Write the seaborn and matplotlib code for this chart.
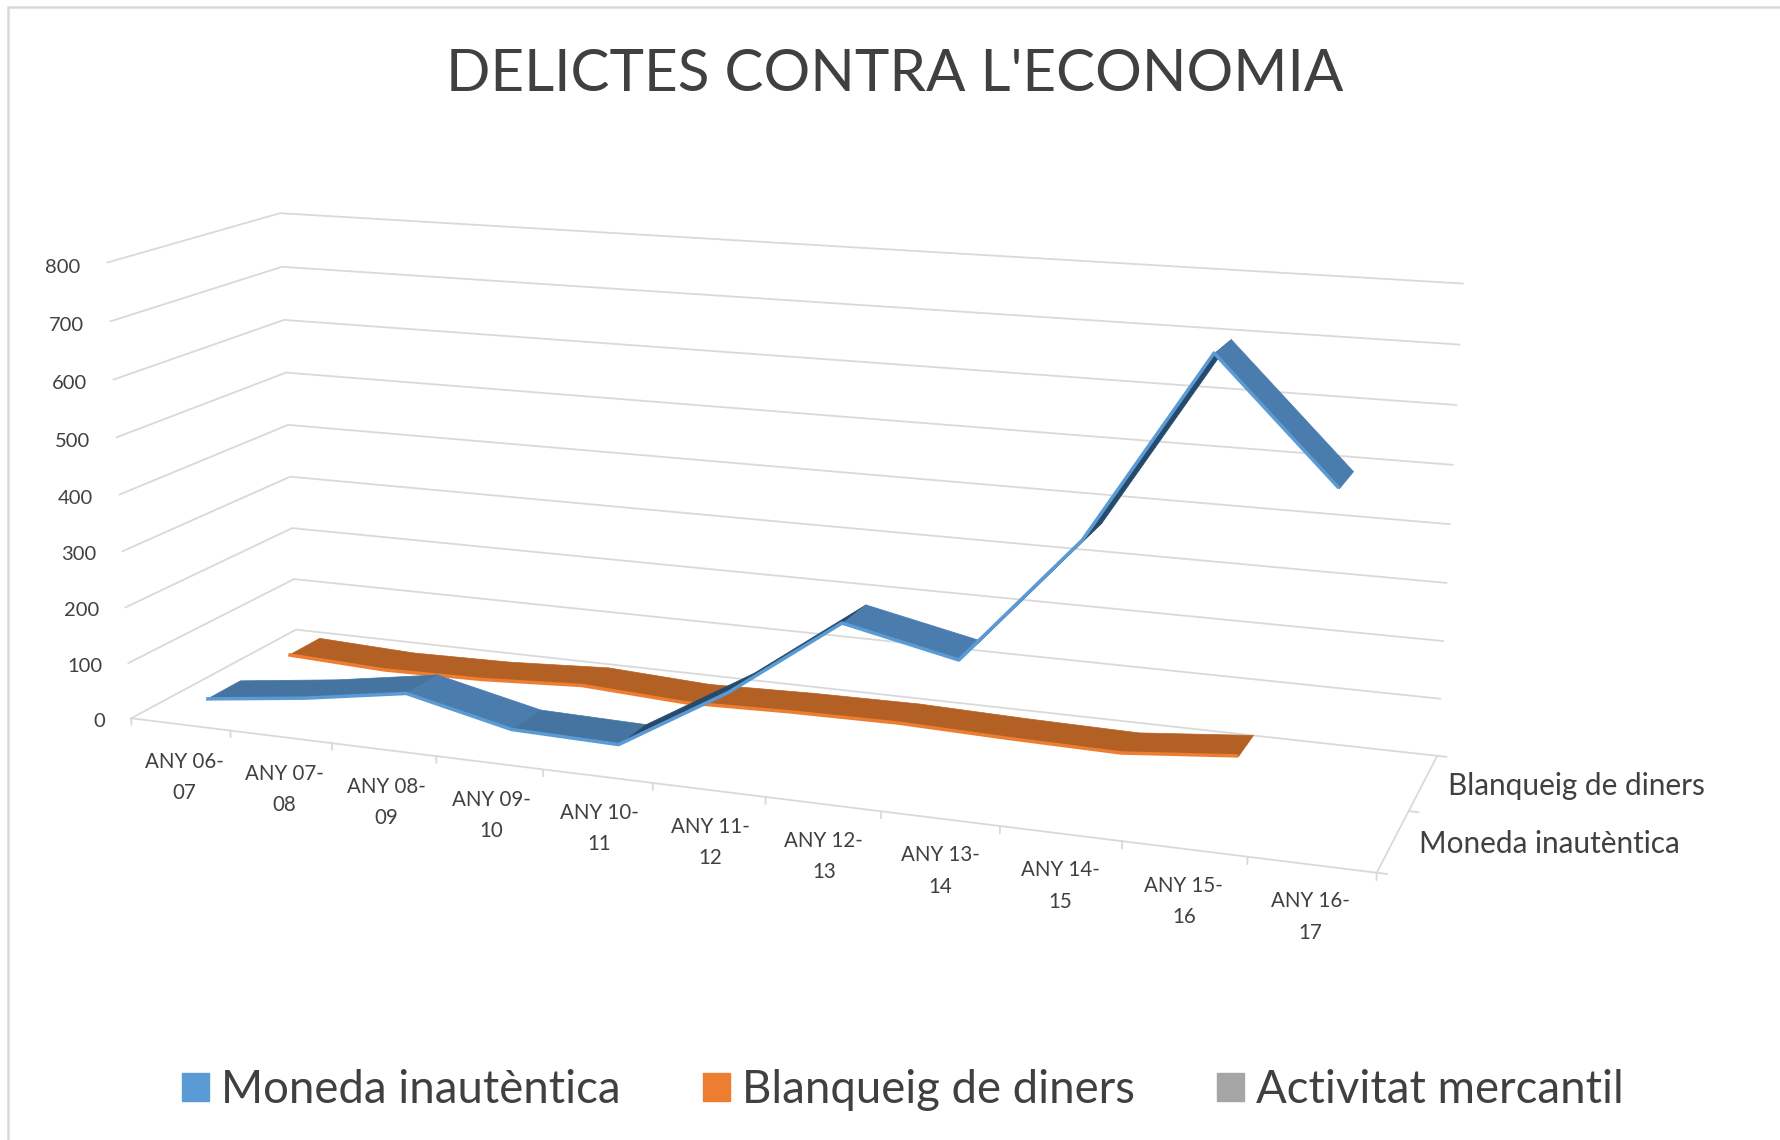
import numpy as np
import seaborn as sns
import matplotlib
matplotlib.use("Agg")
import matplotlib.pyplot as plt
from matplotlib.patches import Patch, Rectangle
from mpl_toolkits.mplot3d import proj3d
from mpl_toolkits.mplot3d.art3d import Poly3DCollection

W = 1780
H = 1140

anys = ["ANY 06-\n07", "ANY 07-\n08", "ANY 08-\n09", "ANY 09-\n10", "ANY 10-\n11", "ANY 11-\n12",
        "ANY 12-\n13", "ANY 13-\n14", "ANY 14-\n15", "ANY 15-\n16", "ANY 16-\n17"]
moneda = [20, 43, 73, 31, 27, 139, 277, 236, 450, 758, 566]
blanqueig = [18, 10, 13, 23, 13, 18, 20, 15, 12, 30]
y_ticks = [0, 100, 200, 300, 400, 500, 600, 700, 800]
series_names = ["Moneda inautèntica", "Blanqueig de diners", "Activitat mercantil"]
depth_names = ["Moneda inautèntica", "Blanqueig de diners"]

BLUE = "#5B9BD5"
ORANGE = "#ED7D31"
GREY = "#A5A5A5"
GRID = "#D9D9D9"
TEXT = "#404040"


def ribbon(ax, values, depth, edge, flat, shaded, dark, zorder):
    ''' draw one 3d line as a strip of quads plus its bright front edge '''
    xs = np.arange(len(values)) + 0.5
    for i in range(len(values) - 1):
        rise = values[i + 1] - values[i]
        if rise > 100:
            color = dark
        elif rise > -30:
            color = shaded
        else:
            color = flat
        quad = [(xs[i], depth - 0.2, values[i]), (xs[i + 1], depth - 0.2, values[i + 1]),
                (xs[i + 1], depth + 0.2, values[i + 1]), (xs[i], depth + 0.2, values[i])]
        ax.add_collection3d(Poly3DCollection([quad], facecolor=color, edgecolor=color,
                                             linewidth=0.5, zorder=zorder))
    ax.plot(xs, [depth - 0.2] * len(xs), values, color=edge, lw=2.5, zorder=zorder + 0.5,
            solid_capstyle="butt", clip_on=False)


def label(ax, x, y, z, text, **kwargs):
    ''' write a flat text at a point of the 3d box '''
    px, py, _ = proj3d.proj_transform(x, y, z, ax.get_proj())
    ax.text2D(px, py, text, transform=ax.transData, color=TEXT, **kwargs)


def main():
    sns.set_theme(style="white", font="Lato")
    fig = plt.figure(figsize=(W / 100, H / 100), dpi=100, facecolor="white")
    ax = fig.add_axes([64.9 / W, -76.2 / H, 1377 / W, 1377 / H], projection="3d")
    ax.set_xlim(0, 11)
    ax.set_ylim(0, 2)
    ax.set_zlim(0, 800)
    ax.view_init(elev=14.0449, azim=-69.5581)
    ax.set_proj_type("persp", focal_length=0.4179)
    ax.set_box_aspect((2.6961, 0.7328, 1.0))
    ax.computed_zorder = False
    ax.set_axis_off()

    # walls
    for z in y_ticks:
        ax.plot([0, 0, 11], [0, 2, 2], [z, z, z], color=GRID, lw=1.3, zorder=1, clip_on=False)
        label(ax, -0.27, 0, z - 11, str(z), ha="right", va="center", fontsize=14.5)
    # floor edges and ticks
    ax.plot([0, 11], [0, 0], [0, 0], color=GRID, lw=1.3, zorder=1, clip_on=False)
    ax.plot([11, 11], [0, 2], [0, 0], color=GRID, lw=1.3, zorder=1, clip_on=False)
    for i in range(12):
        ax.plot([i, i], [0, 0], [0, -12], color=GRID, lw=1.3, zorder=1, clip_on=False)
    for d in range(3):
        ax.plot([11, 11.08], [d, d], [0, 0], color=GRID, lw=1.3, zorder=1, clip_on=False)

    ribbon(ax, blanqueig, 1.5, ORANGE, "#B36024", "#B36024", "#A95A20", 2)
    ribbon(ax, moneda, 0.5, BLUE, "#4A7DAD", "#44749F", "#264A6B", 3)

    # the labels sit closer to the axis towards the right, like in the original
    for i, name in enumerate(anys):
        label(ax, i + 0.51, 0, -96 + 1.2 * i, name, ha="center", va="center", fontsize=14.8,
              linespacing=1.7)
    for d, name in enumerate(depth_names):
        label(ax, 11.2, d + 0.5, 0, name, ha="left", va="center", fontsize=21.4)

    fig.text(894.5 / W, 1 - 74.5 / H, "DELICTES CONTRA L'ECONOMIA", ha="center", va="center",
             fontsize=42, color=TEXT)

    handles = [Patch(facecolor=c, edgecolor=c) for c in (BLUE, ORANGE, GREY)]
    fig.legend(handles, series_names, loc="center", bbox_to_anchor=(903 / W, 1 - 1090 / H),
               ncol=3, frameon=False, fontsize=32.8, labelcolor=TEXT, handlelength=0.59,
               handleheight=0.59, handletextpad=0.27, columnspacing=1.8)

    fig.add_artist(Rectangle((7.5 / W, -0.02), 1.1, 1.02 - 6.5 / H, transform=fig.transFigure,
                             fill=False, edgecolor=GRID, lw=1.8))
    fig.savefig("out.png", dpi=100)


if __name__ == "__main__":
    main()
